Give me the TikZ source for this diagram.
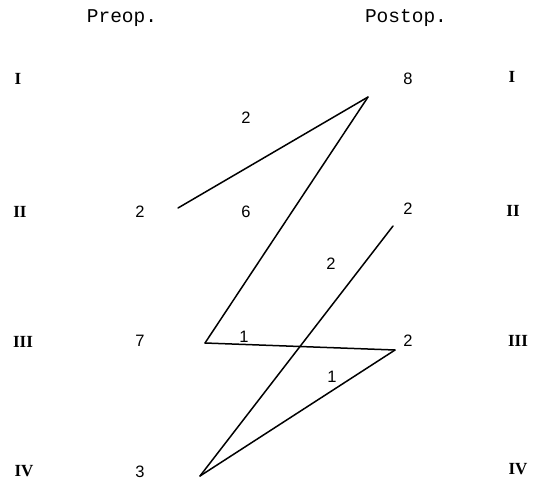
\documentclass[tikz,border=0pt]{standalone}
\usepackage{fontspec}
\setmainfont{Liberation Serif}
\newfontfamily\numfont{Liberation Sans}
\newfontfamily\headfont{Liberation Mono}
\begin{document}
\begin{tikzpicture}[x=1pt,y=-1pt,
  head/.style={font=\headfont\fontsize{19.5}{19.5}\selectfont, inner sep=0pt},
  roman/.style={font=\bfseries\fontsize{17}{17}\selectfont, inner sep=0pt},
  num/.style={font=\numfont\fontsize{16.5}{16.5}\selectfont, inner sep=0pt},
  lab/.style={font=\numfont\fontsize{16.5}{16.5}\selectfont, inner sep=0pt},
  link/.style={line width=1.5pt, line cap=round, line join=round}]
\useasboundingbox (0,0) rectangle (548,482);
% headings
\node[head] (hpre) at (122,18) {Preop.};
\node[head] (hpost) at (406,18) {Postop.};
% roman numerals left
\node[roman] (lI) at (18,79) {I};
\node[roman] (lII) at (20,212) {II};
\node[roman] (lIII) at (23,342) {III};
\node[roman] (lIV) at (24,471) {IV};
% roman numerals right
\node[roman] (rI) at (512,77) {I};
\node[roman] (rII) at (513,211) {II};
\node[roman] (rIII) at (518,341) {III};
\node[roman] (rIV) at (518,469) {IV};
% counts
\node[num] (p2) at (140,212) {2};
\node[num] (p7) at (140,341) {7};
\node[num] (p3) at (140,472) {3};
\node[num] (q8) at (408,79) {8};
\node[num] (q2a) at (408,209) {2};
\node[num] (q2b) at (408,341) {2};
% endpoints
\coordinate (aII) at (178,208);
\coordinate (aI) at (368,97);
\coordinate (aIII) at (205,343);
\coordinate (bIII) at (395,350);
\coordinate (aIV) at (200,476);
\coordinate (bII) at (393,226);
% connectors
\draw[link] (aII) -- (aI);
\draw[link] (aI) -- (aIII);
\draw[link] (aIII) -- (bIII);
\draw[link] (bIII) -- (aIV);
\draw[link] (aIV) -- (bII);
% labels
\node[lab] (l1) at (246,118) {2};
\node[lab] (l2) at (246,212) {6};
\node[lab] (l3) at (244,337) {1};
\node[lab] (l4) at (332,377) {1};
\node[lab] (l5) at (331,264) {2};
\end{tikzpicture}
\end{document}
